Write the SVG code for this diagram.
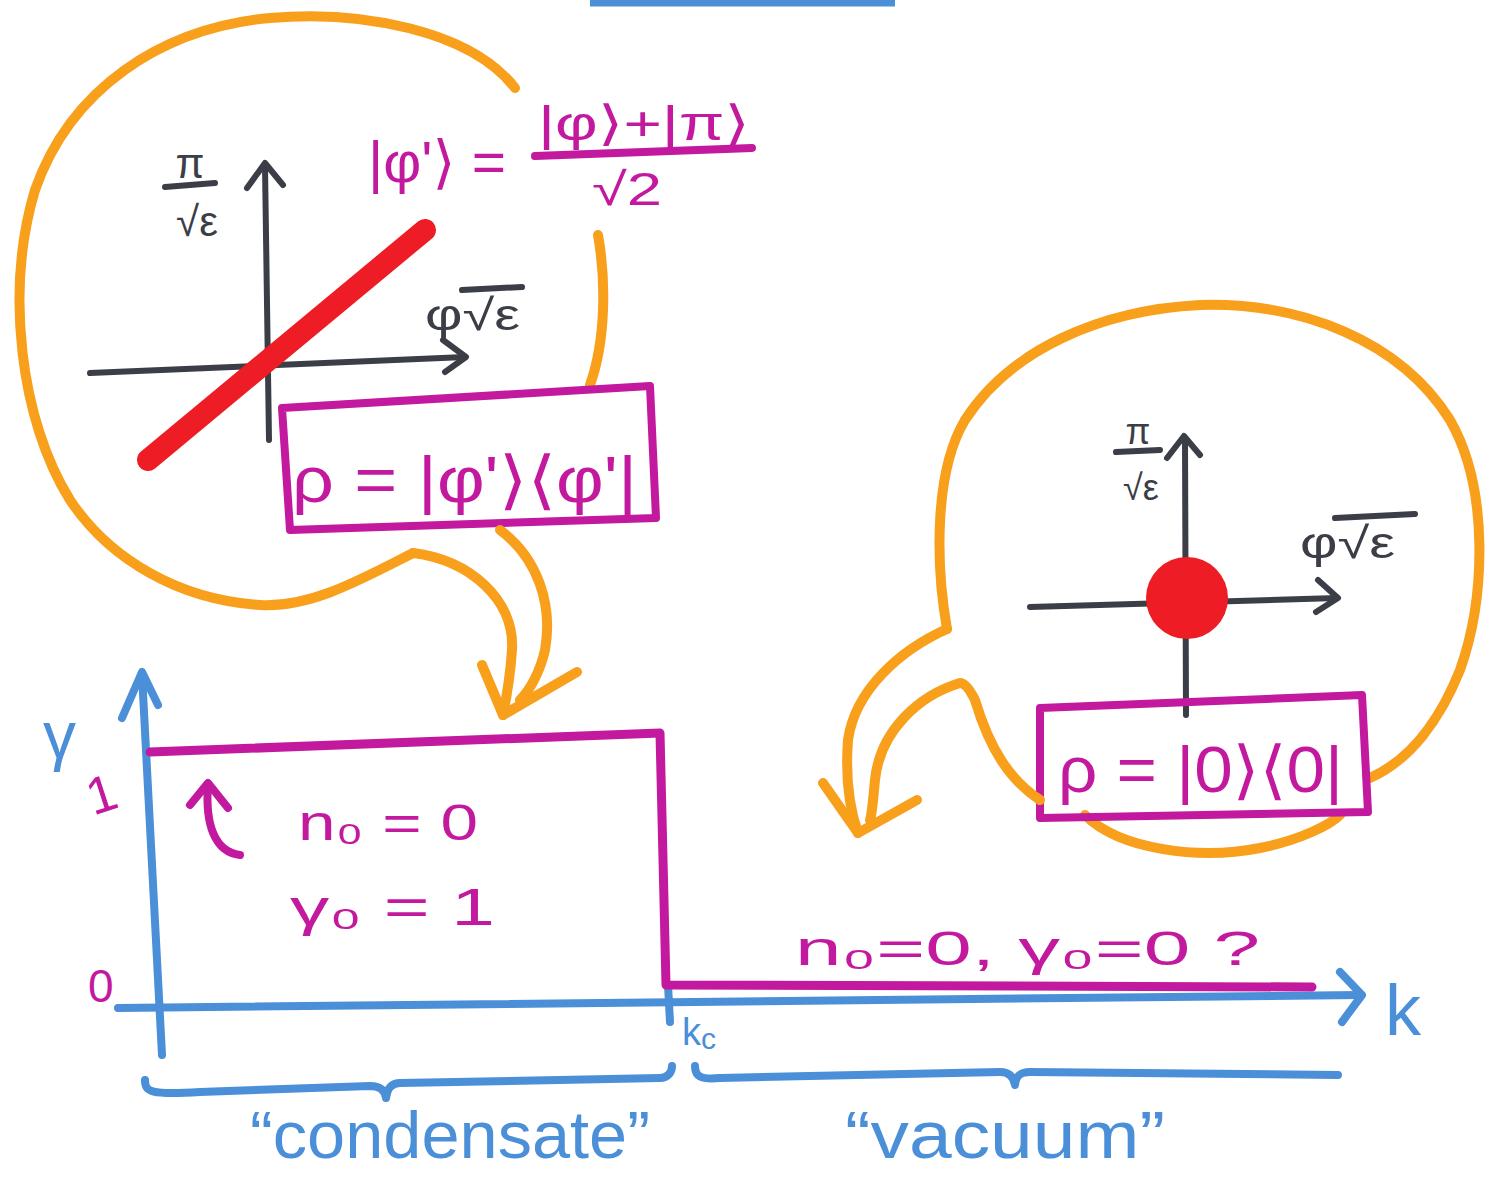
<svg xmlns="http://www.w3.org/2000/svg" width="1492" height="1179" viewBox="0 0 1492 1179">
<style>
.or{fill:none;stroke:#f8a01c;stroke-width:10;stroke-linecap:round;stroke-linejoin:round}
.mg{fill:none;stroke:#c2199f;stroke-width:8;stroke-linecap:round;stroke-linejoin:round}
.bl{fill:none;stroke:#4a8fd8;stroke-width:8;stroke-linecap:round;stroke-linejoin:round}
.gr{fill:none;stroke:#3b3e46;stroke-width:6;stroke-linecap:round;stroke-linejoin:round}
.tm{fill:#c2199f;font-family:"Liberation Sans","DejaVu Sans",sans-serif}
.tb{fill:#4a8fd8;font-family:"Liberation Sans","DejaVu Sans",sans-serif}
.tg{fill:#3b3e46;font-family:"Liberation Sans","DejaVu Sans",sans-serif}
</style>
<rect width="1492" height="1179" fill="#ffffff"/>
<path d="M590 3 L895 3" stroke="#4a8fd8" stroke-width="7" fill="none"/>

<g id="bubble-left">
<path class="or" d="M515 88 C470 30 360 10 270 18 C160 28 70 90 35 190 C5 290 20 420 70 500 C110 560 180 600 260 605 C310 608 360 580 413 553"/>
<path class="or" d="M598 235 C606 280 606 340 590 385"/>
</g>

<g id="chart-left">
<path class="gr" d="M265 166 L269 440"/>
<path class="gr" d="M90 373 L465 357"/>
<path class="gr" d="M247 188 L265 163 L283 185"/>
<path class="gr" d="M443 340 L466 357 L445 372"/>
<path d="M148 460 L425 230" stroke="#ee1c25" stroke-width="22" stroke-linecap="round" fill="none"/>
<text class="tg" x="190" y="178" font-size="42" text-anchor="middle">π</text>
<path class="gr" d="M165 187 L215 183"/>
<text class="tg" x="197" y="236" font-size="42" text-anchor="middle">√ε</text>
<text class="tg" x="425" y="330" font-size="44" textLength="95" lengthAdjust="spacingAndGlyphs">φ√ε</text>
<path class="gr" d="M462 290 L522 287"/>
</g>

<g id="formula">
<text class="tm" x="368" y="182" font-size="58" textLength="138" lengthAdjust="spacingAndGlyphs">|φ'⟩ =</text>
<text class="tm" x="538" y="140" font-size="48" textLength="212" lengthAdjust="spacingAndGlyphs">|φ⟩+|π⟩</text>
<path class="mg" d="M535 156 L752 148"/>
<text class="tm" x="592" y="205" font-size="46" textLength="70" lengthAdjust="spacingAndGlyphs">√2</text>
</g>

<g id="box-left">
<path class="mg" d="M282 408 L650 386 L656 518 L290 530 Z"/>
<text class="tm" x="292" y="502" font-size="64" textLength="345" lengthAdjust="spacingAndGlyphs">ρ = |φ'⟩⟨φ'|</text>
</g>

<g id="bubble-right">
<path class="or" d="M947 629 C935 560 935 470 965 420 C1010 350 1100 310 1200 305 C1300 302 1400 340 1450 420 C1490 490 1485 600 1460 670 C1440 720 1410 760 1370 778"/>
<path class="or" d="M1085 815 C1120 850 1200 860 1260 848 C1300 840 1330 825 1340 815"/>
</g>

<g id="chart-right">
<path class="gr" d="M1185 438 L1186 715"/>
<path class="gr" d="M1030 607 L1337 598"/>
<path class="gr" d="M1167 458 L1184 436 L1200 455"/>
<path class="gr" d="M1318 580 L1338 598 L1316 612"/>
<circle cx="1187" cy="598" r="41" fill="#ee1c25"/>
<text class="tg" x="1138" y="444" font-size="36" text-anchor="middle">π</text>
<path class="gr" d="M1116 452 L1160 450"/>
<text class="tg" x="1141" y="500" font-size="36" text-anchor="middle">√ε</text>
<text class="tg" x="1300" y="558" font-size="44" textLength="95" lengthAdjust="spacingAndGlyphs">φ√ε</text>
<path class="gr" d="M1335 518 L1415 514"/>
</g>

<g id="box-right">
<path class="mg" d="M1040 708 L1362 695 L1368 812 L1040 818 Z"/>
<text class="tm" x="1058" y="792" font-size="64" textLength="285" lengthAdjust="spacingAndGlyphs">ρ = |0⟩⟨0|</text>
</g>

<g id="connectors">
<path class="or" d="M413 553 C470 560 515 600 512 650 C510 680 506 700 503 715"/>
<path class="or" d="M500 530 C538 558 553 605 545 650 C540 672 530 690 520 700"/>
<path class="or" d="M482 665 L503 715 L577 672"/>
<path class="or" d="M947 629 C900 650 855 690 848 740 C845 780 850 810 858 833"/>
<path class="or" d="M1040 800 C1010 780 990 750 975 700 C970 690 965 683 960 683 C920 695 880 730 875 780 C873 800 872 815 870 820"/>
<path class="or" d="M823 783 L858 833 L917 800"/>
</g>

<g id="graph">
<path class="bl" d="M142 674 L162 1055"/>
<path class="bl" d="M122 718 L142 672 L158 705"/>
<path class="bl" d="M118 1008 L1360 995"/>
<path class="bl" d="M1340 972 L1362 995 L1342 1022"/>
<path class="bl" d="M668 985 L670 1022"/>
<path d="M150 752 L660 733 L666 985 L1312 987" fill="none" stroke="#c2199f" stroke-width="9" stroke-linejoin="round" stroke-linecap="round"/>
<path class="mg" d="M240 855 C215 852 205 825 208 785"/>
<path class="mg" d="M190 805 L208 783 L228 808"/>
<path class="bl" d="M145 1080 C145 1092 150 1095 200 1092 L370 1086 C380 1086 385 1090 386 1098 C387 1088 392 1083 400 1083 L660 1078 C668 1078 672 1072 672 1066"/>
<path class="bl" d="M695 1066 C695 1076 700 1080 720 1078 L1000 1072 C1010 1072 1014 1078 1015 1085 C1016 1076 1020 1072 1030 1072 L1338 1075"/>
</g>

<g id="labels">
<text class="tb" x="43" y="758" font-size="66">γ</text>
<text class="tm" x="86" y="810" font-size="52" transform="rotate(-18 108 790)">1</text>
<text class="tm" x="88" y="1002" font-size="46">0</text>
<text class="tm" x="298" y="840" font-size="50" textLength="180" lengthAdjust="spacingAndGlyphs">n₀ = 0</text>
<text class="tm" x="290" y="925" font-size="52" textLength="205" lengthAdjust="spacingAndGlyphs">γ₀ = 1</text>
<text class="tm" x="795" y="965" font-size="48" textLength="465" lengthAdjust="spacingAndGlyphs">n₀=0, γ₀=0 ?</text>
<text class="tb" x="1385" y="1035" font-size="72">k</text>
<text class="tb" x="682" y="1045" font-size="38">k<tspan font-size="30" dy="4">c</tspan></text>
<text class="tb" x="450" y="1158" font-size="66" text-anchor="middle" textLength="400" lengthAdjust="spacingAndGlyphs">“condensate”</text>
<text class="tb" x="1005" y="1158" font-size="66" text-anchor="middle" textLength="320" lengthAdjust="spacingAndGlyphs">“vacuum”</text>
</g>
</svg>
